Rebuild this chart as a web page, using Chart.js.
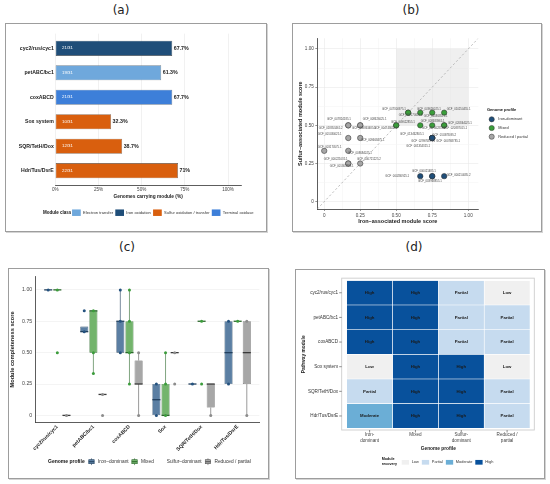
<!DOCTYPE html>
<html>
<head>
<meta charset="utf-8">
<title>Iron and sulfur module recovery</title>
<script src="https://cdn.jsdelivr.net/npm/chart.js@4.4.1/dist/chart.umd.min.js"></script>
<style>
  html, body { margin: 0; padding: 0; background: #fff; }
  body { position: relative; width: 550px; height: 484px; overflow: hidden; }
  .frame { position: absolute; box-sizing: border-box; border: 1px solid #9d9d9d; box-shadow: 1px 1px 0 #d4d4d4; }
  .tag { position: absolute; transform: translate(-50%, -50%); font: 12px "DejaVu Sans", sans-serif; color: #222; }
  canvas { position: absolute; }
</style>
</head>
<body>
<div class="tag" style="left:121px;top:10px">(a)</div>
<div class="tag" style="left:411px;top:10px">(b)</div>
<div class="tag" style="left:127px;top:247px">(c)</div>
<div class="tag" style="left:414px;top:247px">(d)</div>

<div class="frame" style="left:5px;top:23px;width:262px;height:209px"></div>
<div class="frame" style="left:292px;top:23px;width:250px;height:209px"></div>
<div class="frame" style="left:8px;top:268px;width:261px;height:211px"></div>
<div class="frame" style="left:295px;top:269px;width:250px;height:210px"></div>

<canvas id="chartA" width="261" height="208" style="left:5px;top:23px"></canvas>
<canvas id="chartB" width="249" height="208" style="left:292px;top:23px"></canvas>
<canvas id="chartC" width="260" height="210" style="left:8px;top:268px"></canvas>
<canvas id="chartD" width="249" height="209" style="left:295px;top:269px"></canvas>

<script>
// ---------- (a) module prevalence ----------
const modules = ['cyc2/rus/cyc1', 'petABC/bc1', 'coxABCD', 'Sox system', 'SQR/TetH/Dox', 'Hdr/Tus/DsrE'];
const carriers = [21, 19, 21, 10, 12, 22];
const totalGenomes = 31;
const pctCarrying = [67.7, 61.3, 67.7, 32.3, 38.7, 71];
const moduleClass = ['Iron oxidation', 'Electron transfer', 'Terminal oxidase',
  'Sulfur oxidation / transfer', 'Sulfur oxidation / transfer', 'Sulfur oxidation / transfer'];
const classNames = ['Electron transfer', 'Iron oxidation', 'Sulfur oxidation / transfer', 'Terminal oxidase'];
const pctTicks = [0, 25, 50, 75, 100];

// ---------- (b) genome scores ----------
const genomeIds = [
  'GCF_047300975.1', 'GCF_002170615.1', 'GCF_049626025.1', 'GCF_010868515.1', 'GCF_010250455.1',
  'GCF_049622855.1', 'GCF_004748055.1', 'GCF_017462855.2', 'GCF_008683965.1', 'GCF_020844025.1', 'GCF_020887015.1',
  'GCF_013462805.1', 'GCF_010378095.2', 'GCF_029976875.1', 'GCF_000768785.1', 'GCF_001354315.1',
  'GCF_000280925.1', 'GCF_000021485.1', 'GCF_003968855.1', 'GCF_000214085.2',
  'GCF_047824185.1', 'GCF_018853465.2', 'GCF_008626025.1', 'GCF_008863485.1', 'GCF_001030025.1',
  'GCF_009668475.1', 'GCF_003170575.1', 'GCF_008684025.1', 'GCF_000221035.1', 'GCF_001805235.1', 'GCF_000721225.2'
];
const ironScore = [0.583, 0.583, 0.667, 0.75, 0.833,
  0.5, 0.5, 0.667, 0.75, 0.833, 0.833,
  0.75, 0.75, 0.75, 0.75, 0.75,
  0.667, 0.75, 0.75, 0.833,
  0.167, 0.167, 0.25, 0.25, 0.167,
  0.25, 0, 0.167, 0.167, 0.167, 0.25];
const sulfurScore = [0.583, 0.583, 0.583, 0.583, 0.583,
  0.5, 0.5, 0.5, 0.5, 0.5, 0.5,
  0.417, 0.417, 0.417, 0.417, 0.417,
  0.167, 0.167, 0.167, 0.167,
  0.5, 0.5, 0.5, 0.5, 0.417,
  0.417, 0.333, 0.333, 0.25, 0.25, 0.25];
const genomeProfile = [
  'Mixed', 'Mixed', 'Mixed', 'Mixed', 'Mixed', 'Mixed', 'Mixed', 'Mixed', 'Mixed', 'Mixed', 'Mixed',
  'Iron-dominant', 'Iron-dominant', 'Iron-dominant', 'Iron-dominant', 'Iron-dominant',
  'Iron-dominant', 'Iron-dominant', 'Iron-dominant', 'Iron-dominant',
  'Reduced / partial', 'Reduced / partial', 'Reduced / partial', 'Reduced / partial', 'Reduced / partial',
  'Reduced / partial', 'Reduced / partial', 'Reduced / partial', 'Reduced / partial', 'Reduced / partial', 'Reduced / partial'
];
const scatterProfiles = ['Iron-dominant', 'Mixed', 'Reduced / partial'];
const scoreTicks = [0, 0.125, 0.25, 0.375, 0.5, 0.625, 0.75, 0.875, 1];

// ---------- (c) completeness per profile: [min, q1, median, q3, max] ----------
const boxModules = ['cyc2/rus/cyc1', 'petABC/bc1', 'coxABCD', 'Sox', 'SQR/TetH/Dox', 'Hdr/Tus/DsrE'];
const boxProfiles = ['Iron-dominant', 'Mixed', 'Reduced / partial'];
const ironBox = [[1, 1, 1, 1, 1], [0.667, 0.667, 0.667, 0.708, 0.708], [0.5, 0.5, 0.75, 0.75, 1],
  [0, 0, 0.125, 0.25, 0.25], [0.25, 0.25, 0.25, 0.25, 0.25], [0.25, 0.25, 0.5, 0.75, 0.75]];
const mixedBox = [[1, 1, 1, 1, 1], [0.333, 0.5, 0.833, 0.833, 0.833], [0.25, 0.5, 0.5, 0.75, 1],
  [0, 0, 0, 0.25, 0.5], [0.75, 0.75, 0.75, 0.75, 0.75], [0.75, 0.75, 0.75, 0.75, 0.75]];
const reducedBox = [[0, 0, 0, 0, 0], [0.167, 0.167, 0.167, 0.167, 0.167], [0, 0.25, 0.25, 0.4375, 0.5],
  [0.5, 0.5, 0.5, 0.5, 0.5], [0, 0.0625, 0.25, 0.25, 0.25], [0, 0.25, 0.5, 0.75, 0.75]];
const ironPts = [[1], [0.833, 0.667], [1, 0.75, 0.5], [0.25, 0], [0.25], [0.75, 0.25]];
const mixedPts = [[1, 0.5], [0.833, 0.5, 0.333], [1, 0.75, 0.5, 0.25], [0.5, 0.25, 0], [0.75, 0.25], [0.75]];
const reducedPts = [[0], [0.167, 0], [0.5, 0], [0.5, 0.25], [0], [0.75, 0]];
const completenessTicks = [0, 0.25, 0.5, 0.75, 1];

// ---------- (d) module recovery heatmap ----------
const heatProfiles = ['Iron-dominant', 'Mixed', 'Sulfur-dominant', 'Reduced / partial'];
const recovery = [
  ['High', 'High', 'Partial', 'Low'],
  ['High', 'High', 'Partial', 'Partial'],
  ['High', 'High', 'Partial', 'Partial'],
  ['Low', 'High', 'High', 'Low'],
  ['Partial', 'High', 'High', 'Partial'],
  ['Moderate', 'High', 'High', 'Partial']
];
const recoveryLevels = ['Low', 'Partial', 'Moderate', 'High'];

// ---------- styles ----------
const FONT = '"Liberation Sans", Arial, sans-serif';
const classColors = ['#6fa8dc', '#1f4e79', '#d95f0e', '#3d7fd9'];
const profileColors = ['#1f4e79', '#3a9e3a', '#a6a6a6'];
const boxFill = ['#5b7fa3', '#73b46c', '#a7a7a7'];
const boxEdge = ['#22405e', '#2c682c', '#555555'];
const boxDot = ['#24527f', '#3b9c3b', '#8c8c8c'];
const recoveryColors = ['#f0f0f0', '#c6dbef', '#6baed6', '#08519c'];
// pixel nudges of the repelled genome labels in (b)
const labelShift = [
  [-14.3, -3.6], [2.4, 2.4], [8.7, -3.9], [3.4, 3.1], [14.4, -3.3],
  [6.7, -3.6], [-10.6, 2.4], [13.4, 3], [0.4, -4.3], [15.7, -2], [11, 3],
  [-20.3, -3.3], [12, -3], [-9, 3], [16, 3], [-14, 8.7],
  [-23, 0.5], [-8.3, -4.5], [-2.3, 4.8], [14.4, -0.5],
  [-9.3, -6], [-17.6, 2.4], [14.4, -6], [3.7, 2.4], [-18.6, -3.7],
  [12.4, 2.7], [5.4, -4.1], [11.7, 1.9], [-12.6, -4.2], [-6.6, 2.5], [8.7, -4.2]
];

Chart.defaults.font.family = FONT;
Chart.defaults.color = '#333';
Chart.defaults.animation = false;
Chart.defaults.plugins.legend.display = false;
Chart.defaults.plugins.tooltip.enabled = false;

const fmtScore = v => (v === 0 ? '0' : v.toFixed(2));
const isMajor = v => Math.abs(v * 4 - Math.round(v * 4)) < 1e-6;

// draws a legend row left to right, y is the vertical centre
function drawRow(ctx, x, y, items) {
  ctx.save();
  items.forEach(it => {
    if (it.gap) { x += it.gap; return; }
    if (it.text !== undefined) {
      ctx.font = (it.bold ? 'bold ' : '') + it.size + 'px ' + FONT;
      ctx.fillStyle = it.color || '#333';
      ctx.textAlign = 'left';
      ctx.textBaseline = 'middle';
      ctx.fillText(it.text, x, y);
      x += ctx.measureText(it.text).width;
      return;
    }
    if (it.draw) it.draw(ctx, x, y);
    x += it.w;
  });
  ctx.restore();
}
const rectKey = (fill, w, h) => ({w, draw: (ctx, x, y) => { ctx.fillStyle = fill; ctx.fillRect(x, y - h / 2, w, h); }});
const boxKey = (fill, edge) => ({w: 7, draw: (ctx, x, y) => {
  if (!fill) return;
  ctx.strokeStyle = edge; ctx.lineWidth = 0.6;
  ctx.beginPath(); ctx.moveTo(x + 3.5, y - 3.4); ctx.lineTo(x + 3.5, y + 3.4); ctx.stroke();
  ctx.fillStyle = fill; ctx.fillRect(x + 0.8, y - 2, 5.4, 4); ctx.strokeRect(x + 0.8, y - 2, 5.4, 4);
  ctx.lineWidth = 1; ctx.beginPath(); ctx.moveTo(x + 0.8, y); ctx.lineTo(x + 6.2, y); ctx.stroke();
}});

// ---------- chart (a) ----------
const prevalenceLabels = {
  id: 'prevalenceLabels',
  afterDatasetsDraw(chart) {
    const ctx = chart.ctx;
    ctx.save();
    ctx.textAlign = 'left';
    ctx.textBaseline = 'middle';
    chart.getDatasetMeta(0).data.forEach((bar, i) => {
      ctx.font = '4.4px ' + FONT;
      ctx.fillStyle = '#ffffff';
      ctx.fillText(carriers[i] + '/' + totalGenomes, bar.base + 6.4, bar.y);
      ctx.font = 'bold 5.3px ' + FONT;
      ctx.fillStyle = '#222';
      ctx.fillText(pctCarrying[i] + '%', bar.x + 1.5, bar.y);
    });
    ctx.restore();
  },
  afterDraw(chart) {
    const items = [{text: 'Module class', size: 4.5, bold: true, color: '#111'}, {gap: 0.8}];
    classNames.forEach((c, k) => {
      items.push(rectKey(classColors[k], 8.7, 6.5), {gap: 2.3}, {text: c, size: 4.1, color: '#333'}, {gap: 2.2});
    });
    drawRow(chart.ctx, 38, 189.7, items);
  }
};

new Chart(document.getElementById('chartA'), {
  type: 'bar',
  data: {
    datasets: [{
      data: modules.map((m, i) => ({x: pctCarrying[i], y: i})),
      backgroundColor: moduleClass.map(c => classColors[classNames.indexOf(c)]),
      borderColor: '#4d4d4d',
      borderWidth: 0.6,
      borderSkipped: false,
      barPercentage: 0.62,
      categoryPercentage: 1
    }]
  },
  options: {
    indexAxis: 'y',
    responsive: false,
    layout: {padding: {left: 0, right: 25, top: 10.6, bottom: 31.1}},
    scales: {
      y: {
        type: 'linear', reverse: true, min: -0.6, max: 5.6, offset: false,
        afterBuildTicks: s => { s.ticks = modules.map((m, i) => ({value: i})); },
        afterFit: s => { s.width = 50.3; },
        ticks: {callback: v => modules[v], autoSkip: false, font: {size: 5.2, weight: 'bold'}, color: '#222', padding: 1.5},
        grid: {display: false, drawTicks: false},
        border: {display: false}
      },
      x: {
        type: 'linear', min: 0, max: 107.5,
        afterBuildTicks: s => { s.ticks = pctTicks.map(v => ({value: v})); },
        afterFit: s => { s.height = 14.5; },
        ticks: {callback: v => v + '%', font: {size: 4.6}, color: '#444', padding: 1.8},
        grid: {color: '#e8e8e8', lineWidth: 0.6, drawTicks: false},
        border: {display: true, color: '#333', width: 0.8},
        title: {display: true, text: 'Genomes carrying module (%)', font: {size: 4.8, weight: 'bold'}, color: '#222', padding: 0}
      }
    }
  },
  plugins: [prevalenceLabels]
});

// ---------- chart (b) ----------
const bothHigh = {xMin: 0.5, xMax: 1, yMin: 0.5, yMax: 1};
const scoreMin = -0.048, scoreMax = 1.07;
const scatterExtras = {
  id: 'scatterExtras',
  beforeDatasetsDraw(chart) {
    const {ctx, scales: {x, y}} = chart;
    const l = x.getPixelForValue(bothHigh.xMin), r = x.getPixelForValue(bothHigh.xMax);
    const t = y.getPixelForValue(bothHigh.yMax), b = y.getPixelForValue(bothHigh.yMin);
    ctx.save();
    ctx.fillStyle = 'rgba(225,225,225,0.55)';
    ctx.fillRect(l, t, r - l, b - t);
    ctx.restore();
  },
  afterDatasetsDraw(chart) {
    const {ctx, scales: {x, y}} = chart;
    ctx.save();
    ctx.font = '2.8px ' + FONT;
    ctx.fillStyle = '#4a4a4a';
    ctx.textAlign = 'center';
    ctx.textBaseline = 'middle';
    genomeIds.forEach((g, i) => {
      ctx.fillText(g, x.getPixelForValue(ironScore[i]) + labelShift[i][0],
        y.getPixelForValue(sulfurScore[i]) + labelShift[i][1]);
    });
    ctx.restore();
  },
  afterDraw(chart) {
    const ctx = chart.ctx;
    drawRow(ctx, 195, 87, [{text: 'Genome profile', size: 4, bold: true, color: '#111'}]);
    scatterProfiles.forEach((p, k) => {
      const cy = 96.3 + k * 8.7;
      ctx.save();
      ctx.beginPath();
      ctx.arc(199.7, cy, 2.6, 0, Math.PI * 2);
      ctx.fillStyle = profileColors[k];
      ctx.fill();
      ctx.lineWidth = 0.5;
      ctx.strokeStyle = '#333';
      ctx.stroke();
      ctx.restore();
      drawRow(ctx, 206.3, cy, [{text: p, size: 3.9, color: '#333'}]);
    });
  }
};

const scoreGrid = ctx => (isMajor(ctx.tick.value) ? '#e4e4e4' : '#f3f3f3');
const scoreTickColor = ctx => (isMajor(ctx.tick.value) ? '#333' : 'rgba(0,0,0,0)');

new Chart(document.getElementById('chartB'), {
  type: 'scatter',
  data: {
    datasets: scatterProfiles.map((p, k) => ({
      label: p,
      data: genomeIds.map((g, i) => ({x: ironScore[i], y: sulfurScore[i], p: genomeProfile[i]}))
        .filter(d => d.p === p),
      backgroundColor: profileColors[k],
      borderColor: '#333',
      borderWidth: 0.55,
      pointRadius: 2.7
    })).concat([{
      type: 'line',
      data: [{x: scoreMin, y: scoreMin}, {x: scoreMax, y: scoreMax}],
      borderColor: '#a3a3a3',
      borderWidth: 0.7,
      borderDash: [2.2, 2.2],
      pointRadius: 0
    }])
  },
  options: {
    responsive: false,
    layout: {padding: {left: 0, right: 62.7, top: 15.3, bottom: 6.7}},
    scales: {
      x: {
        type: 'linear', min: scoreMin, max: scoreMax,
        afterBuildTicks: s => { s.ticks = scoreTicks.map(v => ({value: v})); },
        afterFit: s => { s.height = 15.3; },
        ticks: {callback: v => (isMajor(v) ? fmtScore(v) : ''), font: {size: 4.6}, color: '#444', padding: 1.5},
        grid: {color: scoreGrid, lineWidth: 0.5, tickLength: 2, tickColor: scoreTickColor},
        border: {display: true, color: '#333', width: 0.8},
        title: {display: true, text: 'Iron\u2013associated module score', font: {size: 5.5, weight: 'bold'}, color: '#222', padding: 0}
      },
      y: {
        type: 'linear', min: scoreMin, max: scoreMax,
        afterBuildTicks: s => { s.ticks = scoreTicks.map(v => ({value: v})); },
        afterFit: s => { s.width = 25.3; },
        ticks: {callback: v => (isMajor(v) ? fmtScore(v) : ''), font: {size: 4.6}, color: '#444', padding: 1.5},
        grid: {color: scoreGrid, lineWidth: 0.5, tickLength: 2, tickColor: scoreTickColor},
        border: {display: true, color: '#333', width: 0.8},
        title: {display: true, text: 'Sulfur\u2013associated module score', font: {size: 5.5, weight: 'bold'}, color: '#222', padding: {top: 4.7, bottom: 0}}
      }
    }
  },
  plugins: [scatterExtras]
});

// ---------- chart (c) ----------
const boxSets = [ironBox, mixedBox, reducedBox];
const boxPoints = [ironPts, mixedPts, reducedPts];
const boxExtras = {
  id: 'boxExtras',
  afterDatasetsDraw(chart) {
    const {ctx, scales: {y}} = chart;
    ctx.save();
    boxSets.forEach((set, k) => {
      chart.getDatasetMeta(k).data.forEach((el, i) => {
        const [mn, q1, md, q3, mx] = set[i];
        const half = el.width / 2;
        ctx.strokeStyle = boxEdge[k];
        ctx.lineWidth = 0.6;
        ctx.beginPath();
        ctx.moveTo(el.x, y.getPixelForValue(mn)); ctx.lineTo(el.x, y.getPixelForValue(q1));
        ctx.moveTo(el.x, y.getPixelForValue(q3)); ctx.lineTo(el.x, y.getPixelForValue(mx));
        ctx.stroke();
        ctx.lineWidth = 1.3;
        ctx.strokeStyle = k === 2 ? '#3a3a3a' : boxEdge[k];
        ctx.beginPath();
        ctx.moveTo(el.x - half, y.getPixelForValue(md)); ctx.lineTo(el.x + half, y.getPixelForValue(md));
        ctx.stroke();
        ctx.fillStyle = boxDot[k];
        boxPoints[k][i].forEach(v => {
          ctx.beginPath();
          ctx.arc(el.x, y.getPixelForValue(v), 1.5, 0, Math.PI * 2);
          ctx.fill();
        });
      });
    });
    ctx.restore();
  },
  afterDraw(chart) {
    drawRow(chart.ctx, 40, 193.7, [
      {text: 'Genome profile', size: 5, bold: true, color: '#111'}, {gap: 3.3},
      boxKey(boxFill[0], boxEdge[0]), {gap: 3}, {text: 'Iron\u2013dominant', size: 4.8}, {gap: 2.4},
      boxKey(boxFill[1], boxEdge[1]), {gap: 3}, {text: 'Mixed', size: 4.8}, {gap: 2.4},
      boxKey(null), {gap: 3.5}, {text: 'Sulfur\u2013dominant', size: 4.8}, {gap: 2.8},
      boxKey(boxFill[2], boxEdge[2]), {gap: 3}, {text: 'Reduced / partial', size: 4.8}
    ]);
  }
};

new Chart(document.getElementById('chartC'), {
  type: 'bar',
  data: {
    datasets: boxProfiles.map((p, k) => ({
      label: p,
      data: boxModules.map((m, i) => ({x: i, y: [boxSets[k][i][1], boxSets[k][i][3]]})),
      backgroundColor: boxFill[k],
      borderColor: boxEdge[k],
      borderWidth: 0.6,
      borderSkipped: false,
      categoryPercentage: 0.76,
      barPercentage: 0.88
    }))
  },
  options: {
    responsive: false,
    layout: {padding: {left: 0, right: 8.7, top: 8.7, bottom: 25.7}},
    scales: {
      x: {
        type: 'linear', min: -0.6, max: 5.6, offset: false,
        afterBuildTicks: s => { s.ticks = boxModules.map((m, i) => ({value: i})); },
        afterFit: s => { s.height = 30; },
        ticks: {callback: v => boxModules[v], autoSkip: false, minRotation: 45, maxRotation: 45,
          font: {size: 5.1, weight: 'bold'}, color: '#222', padding: 1.5},
        grid: {display: false, drawTicks: false},
        border: {display: true, color: '#333', width: 0.8}
      },
      y: {
        type: 'linear', min: -0.055, max: 1.105,
        afterBuildTicks: s => { s.ticks = completenessTicks.map(v => ({value: v})); },
        afterFit: s => { s.width = 27.7; },
        ticks: {callback: v => fmtScore(v), font: {size: 5.2}, color: '#444', padding: 3.5},
        grid: {color: '#ececec', lineWidth: 0.6, drawTicks: false},
        border: {display: true, color: '#333', width: 0.8},
        title: {display: true, text: 'Module completeness score', font: {size: 5.7, weight: 'bold'}, color: '#222', padding: {top: 0.8, bottom: 0}}
      }
    }
  },
  plugins: [boxExtras]
});

// ---------- chart (d) ----------
const splitProfile = p => (p.includes('/') ? [p.slice(0, p.indexOf('/') + 1), p.slice(p.indexOf('/') + 2)]
  : p.includes('-') ? [p.slice(0, p.indexOf('-') + 1), p.slice(p.indexOf('-') + 1)] : [p]);
const heatExtras = {
  id: 'heatExtras',
  beforeDatasetsDraw(chart) {
    const {ctx, chartArea: a} = chart;
    ctx.save();
    ctx.strokeStyle = '#cdcdcd';
    ctx.lineWidth = 0.9;
    ctx.strokeRect(a.left - 5, a.top - 2.3, a.width + 9.3, a.height + 4);
    ctx.restore();
  },
  afterDatasetsDraw(chart) {
    const {ctx, chartArea: a, scales: {x, y}} = chart;
    ctx.save();
    ctx.font = 'bold 4.3px ' + FONT;
    ctx.fillStyle = '#1a1a1a';
    ctx.textAlign = 'center';
    ctx.textBaseline = 'middle';
    heatProfiles.forEach((p, k) => {
      chart.getDatasetMeta(k).data.forEach((el, i) => {
        const c = el.getCenterPoint();
        ctx.fillText(recovery[i][k], c.x, c.y);
      });
    });
    ctx.strokeStyle = '#444';
    ctx.lineWidth = 0.6;
    ctx.beginPath();
    y.ticks.forEach((t, i) => {
      const py = y.getPixelForTick(i);
      ctx.moveTo(a.left - 7.5, py); ctx.lineTo(a.left - 5, py);
    });
    x.ticks.forEach(t => {
      const px = x.getPixelForValue(t.value);
      ctx.moveTo(px, a.bottom + 1.7); ctx.lineTo(px, a.bottom + 4.2);
    });
    ctx.stroke();
    ctx.restore();
  },
  afterDraw(chart) {
    const ctx = chart.ctx;
    drawRow(ctx, 86.7, 190.3, [{text: 'Module', size: 3.7, bold: true, color: '#111'}]);
    drawRow(ctx, 86.7, 195, [{text: 'recovery', size: 3.7, bold: true, color: '#111'}]);
    const items = [];
    recoveryLevels.forEach((lv, k) => {
      items.push(rectKey(recoveryColors[k], 7.3, 4.7), {gap: 2.7}, {text: lv, size: 3.9}, {gap: 3});
    });
    drawRow(ctx, 106.7, 193.3, items);
  }
};

new Chart(document.getElementById('chartD'), {
  type: 'bar',
  data: {
    labels: modules,
    datasets: heatProfiles.map((p, k) => ({
      label: p,
      data: modules.map((m, i) => ({x: [k, k + 1], y: m})),
      backgroundColor: modules.map((m, i) => recoveryColors[recoveryLevels.indexOf(recovery[i][k])]),
      borderColor: '#ffffff',
      borderWidth: 0.6,
      borderSkipped: false,
      barPercentage: 1,
      categoryPercentage: 1,
      grouped: false
    }))
  },
  options: {
    indexAxis: 'y',
    responsive: false,
    layout: {padding: {left: 0, right: 14, top: 8.3, bottom: 26.8}},
    scales: {
      y: {
        type: 'category',
        afterFit: s => { s.width = 51.7; },
        ticks: {font: {size: 4.6}, color: '#333', padding: 8.7, autoSkip: false},
        grid: {display: false, drawTicks: false},
        border: {display: false},
        title: {display: true, text: 'Pathway module', font: {size: 4.8, weight: 'bold'}, color: '#222', padding: {top: 6.1, bottom: 0}}
      },
      x: {
        type: 'linear', min: 0, max: 4,
        afterBuildTicks: s => { s.ticks = heatProfiles.map((p, k) => ({value: k + 0.5})); },
        afterFit: s => { s.height = 22.9; },
        ticks: {callback: v => splitProfile(heatProfiles[Math.floor(v)]), font: {size: 4.6, lineHeight: 1.15}, color: '#444', padding: 4},
        grid: {display: false, drawTicks: false},
        border: {display: false},
        title: {display: true, text: 'Genome profile', font: {size: 4.8, weight: 'bold'}, color: '#222', padding: 0}
      }
    }
  },
  plugins: [heatExtras]
});
</script>
</body>
</html>
